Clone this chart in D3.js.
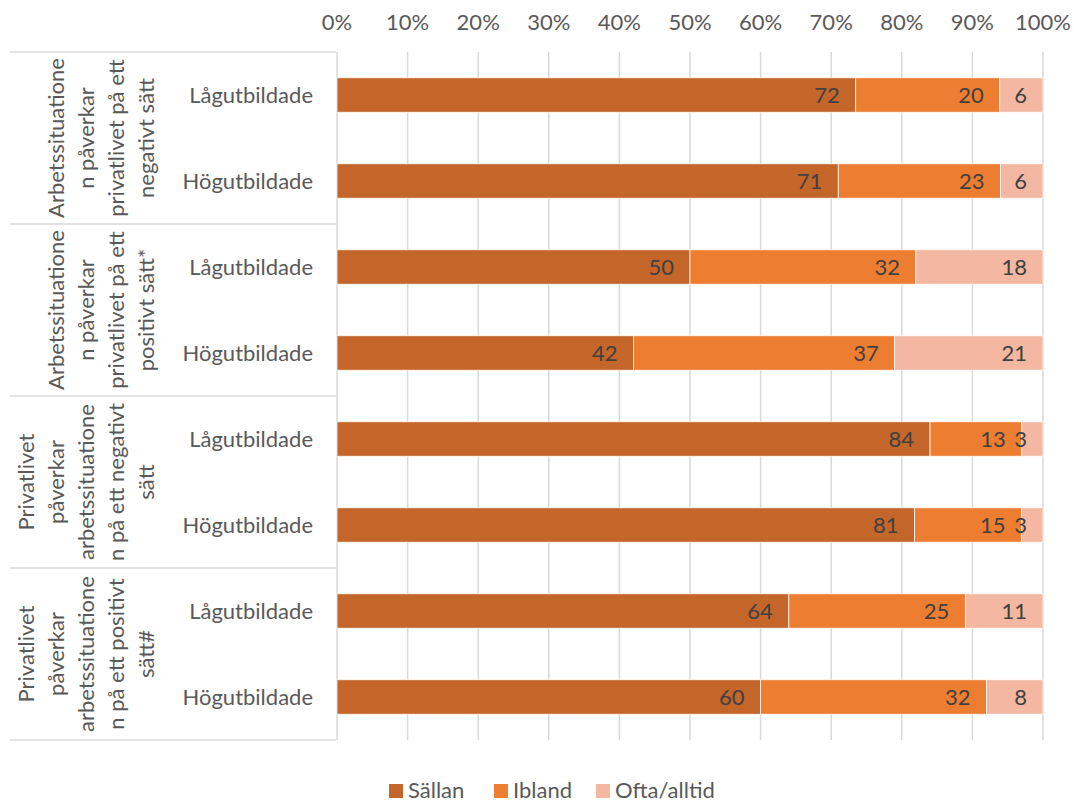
<!DOCTYPE html>
<html><head><meta charset="utf-8">
<script src="https://cdn.jsdelivr.net/npm/d3@7"></script>
<style>
body{margin:0;background:#fff;}
text{font-family:Lato,"Open Sans",sans-serif;fill:#595959;}
</style></head>
<body><svg id="c" width="1074" height="803"></svg>
<script>
const groups = [
  ["Arbetssituatione","n påverkar","privatlivet på ett","negativt sätt"],
  ["Arbetssituatione","n påverkar","privatlivet på ett","positivt sätt*"],
  ["Privatlivet","påverkar","arbetssituatione","n på ett negativt","sätt"],
  ["Privatlivet","påverkar","arbetssituatione","n på ett positivt","sätt#"]
];
const categories = ["Lågutbildade","Högutbildade","Lågutbildade","Högutbildade","Lågutbildade","Högutbildade","Lågutbildade","Högutbildade"];
const sallan = [72,71,50,42,84,81,64,60];
const ibland = [20,23,32,37,13,15,25,32];
const ofta   = [6,6,18,21,3,3,11,8];
const seriesNames = ["Sällan","Ibland","Ofta/alltid"];
const colors = ["#C4652A","#ED7D31","#F4B7A1"];
const ticks = [0,0.1,0.2,0.3,0.4,0.5,0.6,0.7,0.8,0.9,1];

const FS = 22;
const svg = d3.select("#c");
const x = d3.scaleLinear().domain([0,1]).range([337,1043]);
const rows = d3.range(categories.length);
const y = d3.scaleBand().domain(rows).range([52,740]).paddingInner(0.6).paddingOuter(0.3);
const rowBand = d3.scaleBand().domain(rows).range([52,740]);

const table = rows.map(i=>({i, Sällan:sallan[i], Ibland:ibland[i], "Ofta/alltid":ofta[i]}));
const stack = d3.stack().keys(seriesNames).offset(d3.stackOffsetExpand)(table);

// gridlines
svg.append("g").selectAll("line").data(ticks).join("line")
  .attr("x1",d=>x(d)).attr("x2",d=>x(d)).attr("y1",52).attr("y2",740)
  .attr("stroke","#D9D9D9").attr("stroke-width",1.5);

// axis labels
svg.append("g").selectAll("text").data(ticks).join("text")
  .attr("x",d=>x(d)).attr("y",30).attr("text-anchor","middle")
  .attr("font-size",FS).text(d=>d3.format(".0%")(d));

// table lines
const groupEdges = [0,2,4,6,8];
svg.append("g").selectAll("line").data(groupEdges).join("line")
  .attr("x1",10).attr("x2",336)
  .attr("y1",d=>d<8?rowBand(d):rowBand(7)+rowBand.bandwidth())
  .attr("y2",d=>d<8?rowBand(d):rowBand(7)+rowBand.bandwidth())
  .attr("stroke","#D9D9D9").attr("stroke-width",1.5);

// bars
const layer = svg.append("g").selectAll("g").data(stack).join("g").attr("fill",(d,i)=>colors[i]);
layer.selectAll("rect").data(d=>d).join("rect")
  .attr("x",d=>x(d[0])).attr("width",d=>x(d[1])-x(d[0]))
  .attr("y",d=>y(d.data.i)).attr("height",y.bandwidth())
  .attr("stroke","#fff").attr("stroke-width",0.75);

// data labels (inside end)
const vals = [sallan,ibland,ofta];
stack.forEach((s,k)=>{
  svg.append("g").selectAll("text").data(s).join("text")
    .attr("x",d=>x(d[1])-16).attr("y",d=>y(d.data.i)+y.bandwidth()/2)
    .attr("dy","0.35em").attr("text-anchor","end").attr("font-size",FS)
    .style("fill","#404040").text((d,j)=>vals[k][j]);
});

// category labels
svg.append("g").selectAll("text").data(categories).join("text")
  .attr("x",313).attr("y",(d,i)=>rowBand(i)+rowBand.bandwidth()/2)
  .attr("dy","0.35em").attr("text-anchor","end").attr("font-size",FS).text(d=>d);

// group labels (rotated)
groups.forEach((lines,g)=>{
  const cy = rowBand(g*2) + rowBand.bandwidth();
  const n = lines.length;
  lines.forEach((t,k)=>{
    const cx = 146 - (n-1-k)*30;
    svg.append("text").attr("transform",`translate(${cx+8},${cy}) rotate(-90)`)
      .attr("text-anchor","middle").attr("font-size",FS).text(t);
  });
});

// legend
const legX = [389,494,596];
const leg = svg.append("g").selectAll("g").data(seriesNames).join("g")
  .attr("transform",(d,i)=>`translate(${legX[i]},784)`);
leg.append("rect").attr("width",14).attr("height",14).attr("fill",(d,i)=>colors[i]);
leg.append("text").attr("x",19).attr("y",7).attr("dy","0.33em").attr("font-size",FS).text(d=>d);
</script></body></html>
